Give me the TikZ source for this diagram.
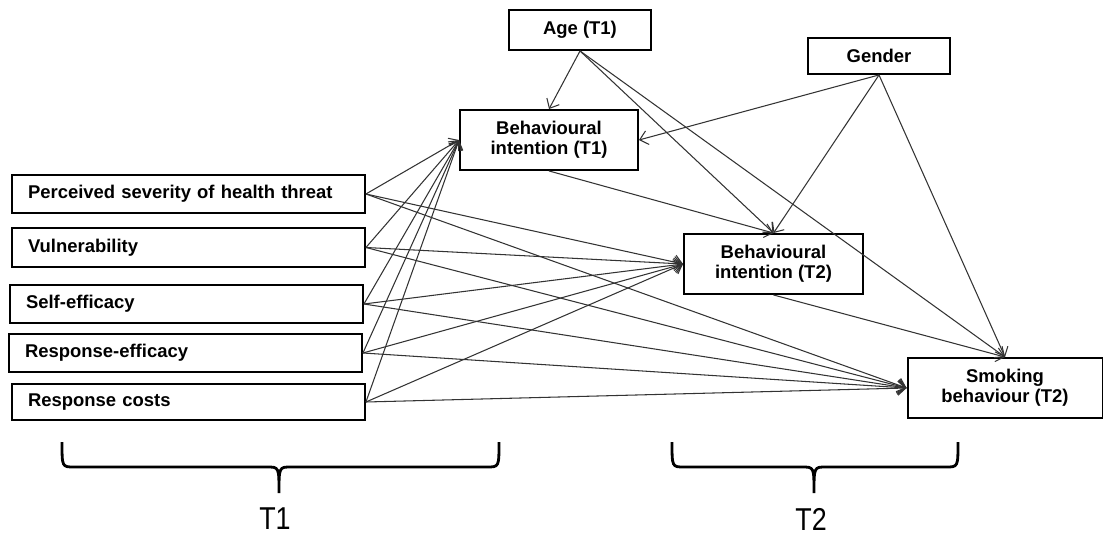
\documentclass[tikz,border=0pt]{standalone}
\usepackage{fontspec}
\setmainfont{Liberation Sans}
\usetikzlibrary{arrows.meta}

\tikzset{
  box/.style = {draw, line width = 1.1pt, align = center, inner sep = 0pt,
    font = \bfseries\fontsize{10.5}{11.5}\selectfont},
  leftbox/.style = {box, minimum width = 7.06cm, text width = 6.42cm,
    inner xsep = 0.32cm, align = left},
  conn/.style = {draw = black!80, line width = 0.6pt,
    -{Straight Barb[length = 4.5pt, width = 8pt]}},
  brace/.style = {draw, line width = 1.6pt},
  timelabel/.style = {font = \fontsize{18}{20}\selectfont, inner sep = 0pt}
}

\begin{document}
\begin{tikzpicture}[x = 0.02cm, y = -0.02cm]
    \useasboundingbox (0, 0) rectangle (1104, 536);

    \node [box, minimum width = 2.84cm, minimum height = 0.8cm] (age) at (580, 30) {Age (T1)};
    \node [box, minimum width = 2.84cm, minimum height = 0.72cm] (gender) at (879, 56) {Gender};
    \node [box, minimum width = 3.56cm, minimum height = 1.2cm] (bi1) at (549, 140) {Behavioural\\intention (T1)};
    \node [box, minimum width = 3.58cm, minimum height = 1.2cm] (bi2) at (773.5, 264) {Behavioural\\intention (T2)};
    \node [box, minimum width = 3.9cm, minimum height = 1.2cm] (smoking) at (1005, 388) {Smoking\\behaviour (T2)};

    \node [leftbox, minimum height = 0.76cm] (severity) at (188.5, 194) {Perceived severity of health threat};
    \node [leftbox, minimum height = 0.78cm] (vulnerability) at (188.5, 247.5) {Vulnerability};
    \node [leftbox, minimum height = 0.76cm] (selfeff) at (186.5, 304) {Self-efficacy};
    \node [leftbox, minimum height = 0.76cm] (respeff) at (185.5, 353) {Response-efficacy};
    \node [leftbox, minimum height = 0.72cm] (costs) at (188.5, 402) {Response costs};

    \foreach \src in {severity, vulnerability, selfeff, respeff, costs}
      \foreach \dst in {bi1, bi2, smoking}
        \draw [conn] (\src.east) -- (\dst.west);

    \draw [conn] (age.south) -- (bi1.north);
    \draw [conn] (age.south) -- (bi2.north);
    \draw [conn] (age.south) -- (smoking.north);
    \draw [conn] (gender.south) -- (bi1.east);
    \draw [conn] (gender.south) -- (bi2.north);
    \draw [conn] (gender.south) -- (smoking.north);
    \draw [conn] (bi1.south) -- (bi2.north);
    \draw [conn] (bi2.south) -- (smoking.north);

    % time brackets
    \draw [brace] (62, 442) .. controls (62, 467) .. (74, 467) -- (267, 467)
      .. controls (279, 467) .. (279, 493) .. controls (279, 467) .. (291, 467)
      -- (487, 467) .. controls (499, 467) .. (499, 442);
    \draw [brace] (672, 442) .. controls (672, 467) .. (684, 467) -- (802, 467)
      .. controls (814, 467) .. (814, 493) .. controls (814, 467) .. (826, 467)
      -- (946, 467) .. controls (958, 467) .. (958, 442);
    \node [timelabel] (t1) at (275, 519) {\scalebox{0.85}[1]{T1}};
    \node [timelabel] (t2) at (811, 519) {\scalebox{0.85}[1]{T2}};
  \end{tikzpicture}
\end{document}
